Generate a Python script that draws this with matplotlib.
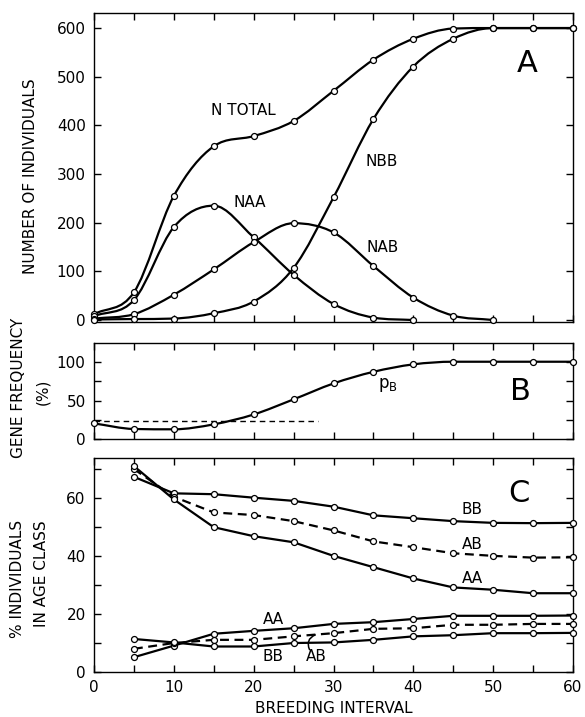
import numpy as np
import matplotlib.pyplot as plt
from matplotlib.path import Path
from matplotlib.patches import PathPatch

plt.rcParams['font.family'] = ['DejaVu Sans']

# panel A : number of individuals
xa = [0, 5, 10, 15, 20, 25, 30, 35, 40, 45, 50, 55, 60]
n_total = [12, 57, 255, 357, 378, 409, 471, 535, 578, 599, 600, 600, 600]
n_aa = [8, 41, 191, 235, 170, 93, 33, 5, 0]
n_ab = [3, 12, 52, 104, 160, 199, 180, 111, 46, 9, 0]
n_bb = [1, 2, 3, 14, 38, 107, 252, 413, 521, 578, 600, 600, 600]

# panel B : gene frequency of B (%)
xb = [0, 5, 10, 15, 20, 25, 30, 35, 40, 45, 50, 55, 60]
p_b = [20.5, 13.3, 12.9, 19.3, 32, 51.5, 72, 87, 96.6, 100, 100, 100, 100]
p_start = 24
p_start_until = 28

# panel C : % individuals in age class
xc = [5, 10, 15, 20, 25, 30, 35, 40, 45, 50, 55, 60]
old_bb = [67.3, 61.6, 61.3, 60.1, 59.0, 57.0, 54.0, 53.0, 52.0, 51.4, 51.3, 51.4]
old_ab = [70.0, 60.4, 55.0, 54.1, 52.0, 48.8, 45.0, 43.0, 40.9, 40.0, 39.4, 39.5]
old_aa = [71.0, 59.5, 49.9, 46.8, 44.7, 40.0, 36.1, 32.2, 29.1, 28.3, 27.1, 27.1]
young_aa = [5.0, 9.0, 13.1, 14.1, 15.0, 16.5, 17.1, 18.2, 19.3, 19.3, 19.3, 19.4]
young_ab = [7.9, 9.9, 11.0, 11.0, 12.2, 13.3, 14.8, 15.0, 16.2, 16.2, 16.5, 16.5]
young_bb = [11.3, 10.1, 8.7, 8.7, 9.9, 10.1, 11.0, 12.2, 12.6, 13.3, 13.3, 13.4]

LW = 1.6
FS = 11
mk = dict(marker='o', ms=4.3, mfc='white', mec='black', mew=0.9, ls='none',
          clip_on=False, zorder=5)


def smooth_path(x, y):
    # Catmull-Rom tangents, limited so the curve does not overshoot, as Bezier pieces
    x = np.asarray(x, float)
    y = np.asarray(y, float)
    h = np.diff(x)
    d = np.diff(y) / h
    m = np.zeros_like(y)
    m[0], m[-1] = d[0], d[-1]
    for k in range(1, len(y) - 1):
        if d[k - 1] * d[k] > 0:
            m[k] = (y[k + 1] - y[k - 1]) / (x[k + 1] - x[k - 1])
    for i in range(len(d)):
        if d[i] == 0:
            m[i] = m[i + 1] = 0
            continue
        a, b = m[i] / d[i], m[i + 1] / d[i]
        r = a * a + b * b
        if r > 9:
            t = 3 / np.sqrt(r)
            m[i], m[i + 1] = t * a * d[i], t * b * d[i]
    verts = [(x[0], y[0])]
    codes = [Path.MOVETO]
    for i in range(len(x) - 1):
        verts += [(x[i] + h[i] / 3, y[i] + m[i] * h[i] / 3),
                  (x[i + 1] - h[i] / 3, y[i + 1] - m[i + 1] * h[i] / 3),
                  (x[i + 1], y[i + 1])]
        codes += [Path.CURVE4] * 3
    return Path(verts, codes)


def curve(ax, x, y):
    ax.add_patch(PathPatch(smooth_path(x, y), fill=False, lw=LW, ec='black', zorder=3))
    ax.plot(x, y, **mk)


def style(ax):
    ax.tick_params(direction='in', top=True, right=True, length=5, width=1,
                   labelsize=FS, pad=6)
    for s in ax.spines.values():
        s.set_linewidth(1)


fig = plt.figure(figsize=(5.85, 7.17), dpi=100)
axA = fig.add_axes([0.1607, 0.5513, 0.8188, 0.4306])
axB = fig.add_axes([0.1607, 0.3873, 0.8188, 0.1347])
axC = fig.add_axes([0.1607, 0.0632, 0.8188, 0.2976])

# ---- A
curve(axA, xa, n_total)
curve(axA, xa[:len(n_aa)], n_aa)
curve(axA, xa[:len(n_ab)], n_ab)
curve(axA, xa, n_bb)
axA.set_xlim(0, 60)
axA.set_ylim(-3.5, 631)
axA.set_xticks(np.arange(0, 61, 5))
axA.set_xticklabels([])
axA.set_yticks(np.arange(0, 601, 100))
style(axA)
axA.text(18.7, 431, 'N TOTAL', fontsize=FS, ha='center', va='center')
axA.text(19.5, 242, 'NAA', fontsize=FS, ha='center', va='center')
axA.text(36, 325, 'NBB', fontsize=FS, ha='center', va='center')
axA.text(36.2, 150, 'NAB', fontsize=FS, ha='center', va='center')
axA.text(54.3, 528, 'A', fontsize=22, ha='center', va='center')

# ---- B
curve(axB, xb, p_b)
axB.plot([0, p_start_until], [p_start, p_start], color='black', lw=1,
         dashes=(4, 3))
axB.set_xlim(0, 60)
axB.set_ylim(0, 124.5)
axB.set_xticks(np.arange(0, 61, 5))
axB.set_xticklabels([])
axB.set_yticks(np.arange(0, 101, 25))
axB.set_yticklabels(['0', '', '50', '', '100'])
style(axB)
axB.text(36.8, 70, r'$\mathregular{p_B}$', fontsize=FS + 1, ha='center', va='center')
axB.text(53.4, 61, 'B', fontsize=22, ha='center', va='center')

# ---- C
for ys, dashed in [(old_bb, False), (old_ab, True), (old_aa, False),
                   (young_aa, False), (young_ab, True), (young_bb, False)]:
    if dashed:
        axC.plot(xc, ys, color='black', lw=LW, dashes=(4, 2.5))
    else:
        axC.plot(xc, ys, color='black', lw=LW)
    axC.plot(xc, ys, **mk)
axC.set_xlim(0, 60)
axC.set_ylim(0, 73.7)
axC.set_xticks(np.arange(0, 61, 5))
axC.set_xticklabels([str(v) if v % 10 == 0 else '' for v in range(0, 61, 5)])
axC.set_yticks(np.arange(0, 71, 10))
axC.set_yticklabels(['0', '', '20', '', '40', '', '60', ''])
style(axC)
axC.text(47.3, 55.9, 'BB', fontsize=FS, ha='center', va='center')
axC.text(47.4, 44.0, 'AB', fontsize=FS, ha='center', va='center')
axC.text(47.4, 32.3, 'AA', fontsize=FS, ha='center', va='center')
axC.text(53.2, 61.6, 'C', fontsize=22, ha='center', va='center')
axC.text(22.5, 17.9, 'AA', fontsize=FS, ha='center', va='center')
axC.text(22.4, 5.3, 'BB', fontsize=FS, ha='center', va='center')
axC.text(27.8, 5.3, 'AB', fontsize=FS, ha='center', va='center')
axC.annotate('', xy=(27.7, 12.7), xytext=(27.0, 7.6),
             arrowprops=dict(arrowstyle='-', lw=1.1, shrinkA=0, shrinkB=0,
                             connectionstyle='arc3,rad=-0.5'), zorder=6)
axC.set_xlabel('BREEDING INTERVAL', fontsize=FS, labelpad=4)

# y axis titles
fig.text(31 / 585, 1 - 176 / 717, 'NUMBER OF INDIVIDUALS', rotation=90,
         fontsize=FS, ha='center', va='center')
fig.text(19 / 585, 1 - 388 / 717, 'GENE FREQUENCY', rotation=90,
         fontsize=FS, ha='center', va='center')
fig.text(43 / 585, 1 - 392 / 717, '(%)', rotation=90,
         fontsize=FS, ha='center', va='center')
fig.text(18 / 585, 1 - 579 / 717, '% INDIVIDUALS', rotation=90,
         fontsize=FS, ha='center', va='center')
fig.text(42 / 585, 1 - 574 / 717, 'IN AGE CLASS', rotation=90,
         fontsize=FS, ha='center', va='center')

fig.savefig('out.png', dpi=100)
